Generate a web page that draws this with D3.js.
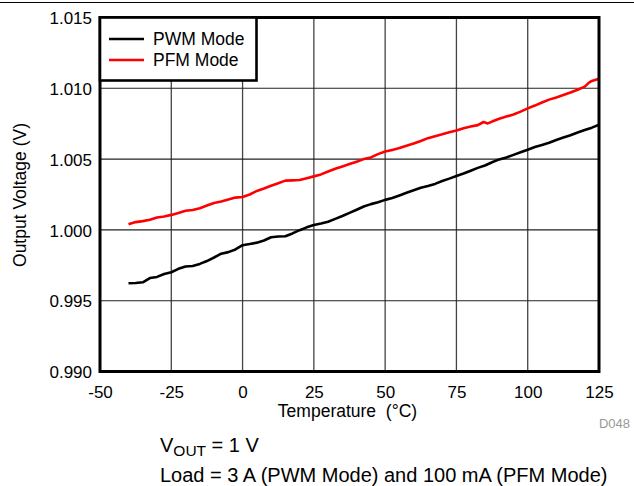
<!DOCTYPE html>
<html><head><meta charset="utf-8">
<script src="https://cdn.jsdelivr.net/npm/d3@7/dist/d3.min.js"></script>
<style>
html,body{margin:0;padding:0;background:#fff;}
svg{display:block;font-family:"Liberation Sans",Arial,Helvetica,sans-serif;}
</style></head>
<body>
<svg id="chart" width="634" height="486"></svg>
<script>
const temps = [-40,-37.5,-35,-32.5,-30,-27.5,-25,-22.5,-20,-17.5,-15,-12.5,-10,-7.5,-5,-2.5,0,2.5,5,7.5,10,12.5,15,17.5,20,22.5,25,27.5,30,32.5,35,37.5,40,42.5,45,47.5,50,52.5,55,57.5,60,62.5,65,67.5,70,72.5,75,77.5,80,82.5,85,87.5,90,92.5,95,97.5,100,102.5,105,107.5,110,112.5,115,117.5,120,122.5,125];
const pwmValues = [0.99623,0.99625,0.99630,0.99660,0.99668,0.99688,0.99701,0.99725,0.99742,0.99745,0.99760,0.99780,0.99805,0.99832,0.99843,0.99862,0.99892,0.99900,0.99910,0.99925,0.99948,0.99953,0.99955,0.99975,0.99998,1.00018,1.00035,1.00045,1.00058,1.00078,1.00098,1.00120,1.00142,1.00165,1.00182,1.00195,1.00212,1.00225,1.00243,1.00262,1.00280,1.00298,1.00310,1.00325,1.00345,1.00362,1.00380,1.00398,1.00418,1.00438,1.00455,1.00478,1.00498,1.00512,1.00530,1.00548,1.00566,1.00585,1.00600,1.00615,1.00635,1.00652,1.00668,1.00688,1.00705,1.00722,1.00742];
const pfmTemps = [-40,-37.5,-35,-32.5,-30,-27.5,-25,-22.5,-20,-17.5,-15,-12.5,-10,-7.5,-5,-2.5,0,2.5,5,7.5,10,12.5,15,17.5,20,22.5,25,27.5,30,32.5,35,37.5,40,42.5,45,47.5,50,52.5,55,57.5,60,62.5,65,67.5,70,72.5,75,77.5,80,82.5,84.5,86,87.5,90,92.5,95,97.5,100,102.5,105,107.5,110,112.5,115,117.5,120,121.5,122.5,125];
const pfmValues = [1.00040,1.00055,1.00062,1.00072,1.00088,1.00095,1.00106,1.00120,1.00135,1.00140,1.00153,1.00172,1.00190,1.00200,1.00215,1.00228,1.00232,1.00250,1.00275,1.00292,1.00312,1.00330,1.00348,1.00350,1.00352,1.00365,1.00378,1.00392,1.00412,1.00432,1.00448,1.00465,1.00482,1.00500,1.00512,1.00535,1.00553,1.00565,1.00578,1.00595,1.00610,1.00628,1.00648,1.00662,1.00675,1.00690,1.00702,1.00718,1.00730,1.00740,1.00762,1.00752,1.00765,1.00785,1.00800,1.00815,1.00835,1.00858,1.00878,1.00900,1.00920,1.00935,1.00952,1.00970,1.00990,1.01012,1.01040,1.01052,1.01068];
const xTicks = [-50,-25,0,25,50,75,100,125];
const yTicks = [0.990,0.995,1.000,1.005,1.010,1.015];
const seriesNames = ["PWM Mode","PFM Mode"];
const seriesColors = ["#000000","#ff0000"];

const svg = d3.select("#chart");
const L = 100, R = 599, T = 17.5, B = 371.5;
const x = d3.scaleLinear().domain([-50,125]).range([L,R]);
const y = d3.scaleLinear().domain([0.990,1.015]).range([B,T]);

// top rule
svg.append("line").attr("x1",0).attr("x2",634).attr("y1",2.5).attr("y2",2.5)
  .attr("stroke","#000").attr("stroke-width",1);

// grid
const g = svg.append("g");
g.selectAll("line.vg").data(xTicks).join("line")
  .attr("x1",d=>x(d)).attr("x2",d=>x(d)).attr("y1",T).attr("y2",B)
  .attr("stroke","#444").attr("stroke-width",1.3);
g.selectAll("line.hg").data(yTicks).join("line")
  .attr("x1",L).attr("x2",R).attr("y1",d=>y(d)).attr("y2",d=>y(d))
  .attr("stroke","#222").attr("stroke-width",1.1);

// axes labels
const xAxis = d3.axisBottom(x).tickValues(xTicks).tickSize(0).tickPadding(0).tickFormat(d=>String(d));
const xg = svg.append("g").attr("transform",`translate(0,${B})`).call(xAxis);
xg.select(".domain").remove();
xg.selectAll("text").attr("dy",null).attr("y",26.5).attr("font-size",17).attr("fill","#000")
  .attr("font-family","Liberation Sans, Arial, sans-serif");

const yAxis = d3.axisLeft(y).tickValues(yTicks).tickSize(0).tickPadding(0).tickFormat(d3.format(".3f"));
const yg = svg.append("g").attr("transform",`translate(${L},0)`).call(yAxis);
yg.select(".domain").remove();
yg.selectAll("text").attr("x",-8).attr("dy","0.36em").attr("font-size",17).attr("fill","#000")
  .attr("font-family","Liberation Sans, Arial, sans-serif");

// lines
const line = d3.line().x(d=>x(d[0])).y(d=>y(d[1]));
const pwm = temps.map((t,i)=>[t,pwmValues[i]]);
const pfm = pfmTemps.map((t,i)=>[t,pfmValues[i]]);
svg.append("path").datum(pwm).attr("d",line).attr("fill","none")
  .attr("stroke",seriesColors[0]).attr("stroke-width",2.6).attr("stroke-linejoin","round");
svg.append("path").datum(pfm).attr("d",line).attr("fill","none")
  .attr("stroke",seriesColors[1]).attr("stroke-width",2.6).attr("stroke-linejoin","round");

// plot border
svg.append("rect").attr("x",L).attr("y",T).attr("width",R-L).attr("height",B-T)
  .attr("fill","none").attr("stroke","#000").attr("stroke-width",3);

// legend
svg.append("rect").attr("x",L).attr("y",T).attr("width",156.5).attr("height",63)
  .attr("fill","#fff").attr("stroke","#000").attr("stroke-width",2.6);
seriesNames.forEach((name,i)=>{
  const ly = 39 + i*21;
  svg.append("line").attr("x1",109).attr("x2",144).attr("y1",ly).attr("y2",ly)
    .attr("stroke",seriesColors[i]).attr("stroke-width",2.6);
  svg.append("text").attr("x",153).attr("y",ly+6).attr("font-size",17.5).text(name);
});

// axis titles
svg.append("text").attr("x",347.5).attr("y",417).attr("text-anchor","middle")
  .attr("font-size",17.5).style("white-space","pre").text("Temperature  (\u00B0C)");
svg.append("text").attr("transform","translate(26,195) rotate(-90)").attr("text-anchor","middle")
  .attr("font-size",17.5).text("Output Voltage (V)");

svg.append("text").attr("x",630).attr("y",428).attr("text-anchor","end")
  .attr("font-size",13).attr("fill","#999").text("D048");

// notes
const n1 = svg.append("text").attr("x",160).attr("y",452).attr("font-size",20);
n1.append("tspan").text("V");
n1.append("tspan").attr("font-size",15.5).attr("dy",4).text("OUT");
n1.append("tspan").attr("dy",-4).text(" = 1 V");
svg.append("text").attr("x",160).attr("y",482).attr("font-size",20)
  .text("Load = 3 A (PWM Mode) and 100 mA (PFM Mode)");
</script>
</body></html>
